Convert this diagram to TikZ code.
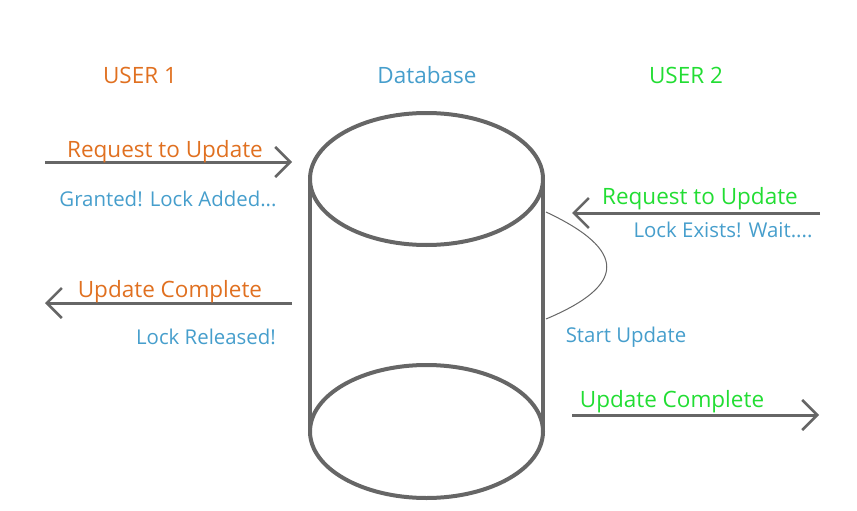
\documentclass[tikz,border=0pt]{standalone}
\usepackage{fontspec}
\setmainfont{Open Sans}
\usetikzlibrary{arrows.meta}
\definecolor{uone}{RGB}{224,112,32}
\definecolor{utwo}{RGB}{34,221,51}
\definecolor{dbblue}{RGB}{70,158,204}
\definecolor{lgray}{RGB}{102,102,102}
\begin{document}
\begin{tikzpicture}[x=1pt,y=-1pt,
  lbl/.style={font=\fontsize{22.5}{26}\selectfont, inner sep=0pt, anchor=center},
  note/.style={font=\fontsize{20.4}{24}\selectfont, inner sep=0pt, anchor=center, text=dbblue},
  flow/.style={draw=lgray, line width=3pt, -{Straight Barb[length=15pt,width=30pt,line width=2.5pt]}},
  cyl/.style={draw=lgray, line width=4pt}]
\useasboundingbox (0,0) rectangle (857,511);
% headers
\node[lbl, text=uone] (h1) at (140,75) {USER 1};
\node[lbl, text=dbblue] (hdb) at (427,75) {Database};
\node[lbl, text=utwo] (h2) at (686,75) {USER 2};
% cylinder
\coordinate (db) at (426.5,305);
\draw[cyl] (426.5,179) ellipse [x radius=116.5, y radius=66];
\draw[cyl] (426.5,431.5) ellipse [x radius=116.5, y radius=66.5];
\draw[cyl] (310,179) -- (310,431.5);
\draw[cyl] (543,179) -- (543,431.5);
% arrow endpoints
\coordinate (a1s) at (45,162);   \coordinate (a1e) at (292,162);
\coordinate (a2s) at (820,213);  \coordinate (a2e) at (572,213);
\coordinate (a3s) at (292,303);  \coordinate (a3e) at (45,303);
\coordinate (a4s) at (572,415);  \coordinate (a4e) at (819,415);
\draw[flow] (a1s) -- (a1e);
\draw[flow] (a2s) -- (a2e);
\draw[flow] (a3s) -- (a3e);
\draw[flow] (a4s) -- (a4e);
% self loop
\coordinate (c1) at (546,212);
\coordinate (c2) at (546,319);
\draw[lgray, line width=1pt] (c1) .. controls (627,250) and (627,285) .. (c2);
% labels
\node[lbl, text=uone] (t1) at (165,152) {Request to Update};
\node[note] (t2) at (168,199) {Granted! Lock Added...};
\node[lbl, text=utwo] (t3) at (700,199) {Request to Update};
\node[note] (t4) at (723,230) {Lock Exists! Wait....};
\node[lbl, text=uone] (t5) at (170,292) {Update Complete};
\node[note] (t6) at (206,337) {Lock Released!};
\node[note] (t7) at (626,337) {Start Update};
\node[lbl, text=utwo] (t8) at (672,402) {Update Complete};
\end{tikzpicture}
\end{document}
